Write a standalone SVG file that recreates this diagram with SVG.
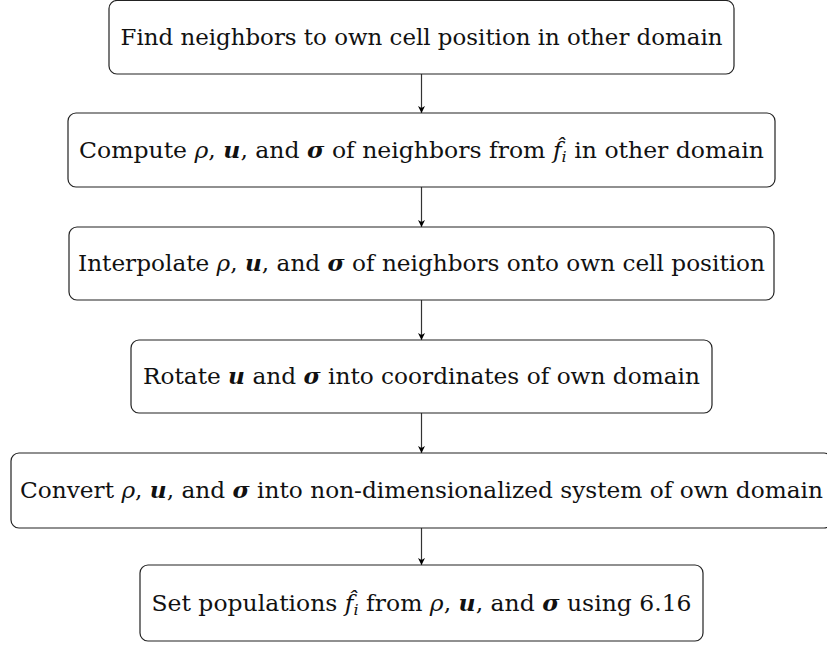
<svg xmlns="http://www.w3.org/2000/svg" width="827" height="646" viewBox="0 0 827 646">
  <style>
    .box { fill: #ffffff; stroke: #222222; stroke-width: 1.2; }
    .lbl { font-family: "DejaVu Serif", serif; font-size: 22px; fill: #111111; text-anchor: middle; }
    .m { font-style: italic; }
    .b { font-style: italic; font-weight: bold; }
    .sub { font-size: 15px; font-style: italic; }
    .edge { stroke: #333333; stroke-width: 1.2; fill: none; marker-end: url(#tip); }
  </style>
  <defs>
    <marker id="tip" viewBox="0 0 10 10" refX="10" refY="5" markerWidth="7" markerHeight="7" markerUnits="userSpaceOnUse" orient="auto">
      <path d="M0,0 L10,5 L0,10 L3,5 Z" fill="#000000"/>
    </marker>
  </defs>

  <g id="connectors">
    <line class="edge" x1="421.5" y1="74" x2="421.5" y2="113"/>
    <line class="edge" x1="421.5" y1="187" x2="421.5" y2="227"/>
    <line class="edge" x1="421.5" y1="300" x2="421.5" y2="340"/>
    <line class="edge" x1="421.5" y1="413" x2="421.5" y2="453"/>
    <line class="edge" x1="421.5" y1="528" x2="421.5" y2="565"/>
  </g>

  <g id="find-neighbors">
    <rect class="box" x="109" y="0.5" width="625" height="73.5" rx="8"/>
    <text class="lbl" x="421.5" y="45" textLength="602" lengthAdjust="spacingAndGlyphs">Find neighbors to own cell position in other domain</text>
  </g>

  <g id="compute-moments">
    <rect class="box" x="68" y="113" width="707" height="74" rx="8"/>
    <text class="lbl" x="421.5" y="158" textLength="685" lengthAdjust="spacingAndGlyphs">Compute <tspan class="m">ρ</tspan>, <tspan class="b">u</tspan>, and <tspan class="b">σ</tspan> of neighbors from <tspan class="m">f̂</tspan><tspan class="sub" dy="4">i</tspan><tspan dy="-4"> in other domain</tspan></text>
  </g>

  <g id="interpolate">
    <rect class="box" x="69" y="227" width="705" height="73" rx="8"/>
    <text class="lbl" x="421.5" y="271" textLength="687" lengthAdjust="spacingAndGlyphs">Interpolate <tspan class="m">ρ</tspan>, <tspan class="b">u</tspan>, and <tspan class="b">σ</tspan> of neighbors onto own cell position</text>
  </g>

  <g id="rotate">
    <rect class="box" x="131" y="340" width="581" height="73" rx="8"/>
    <text class="lbl" x="421.5" y="384" textLength="557" lengthAdjust="spacingAndGlyphs">Rotate <tspan class="b">u</tspan> and <tspan class="b">σ</tspan> into coordinates of own domain</text>
  </g>

  <g id="convert">
    <rect class="box" x="11" y="453" width="821" height="75" rx="8"/>
    <text class="lbl" x="421.5" y="498" textLength="803" lengthAdjust="spacingAndGlyphs">Convert <tspan class="m">ρ</tspan>, <tspan class="b">u</tspan>, and <tspan class="b">σ</tspan> into non-dimensionalized system of own domain</text>
  </g>

  <g id="set-populations">
    <rect class="box" x="140" y="565" width="563" height="76" rx="8"/>
    <text class="lbl" x="421.5" y="611" textLength="540" lengthAdjust="spacingAndGlyphs">Set populations <tspan class="m">f̂</tspan><tspan class="sub" dy="4">i</tspan><tspan dy="-4"> from </tspan><tspan class="m">ρ</tspan>, <tspan class="b">u</tspan>, and <tspan class="b">σ</tspan> using 6.16</text>
  </g>
</svg>
